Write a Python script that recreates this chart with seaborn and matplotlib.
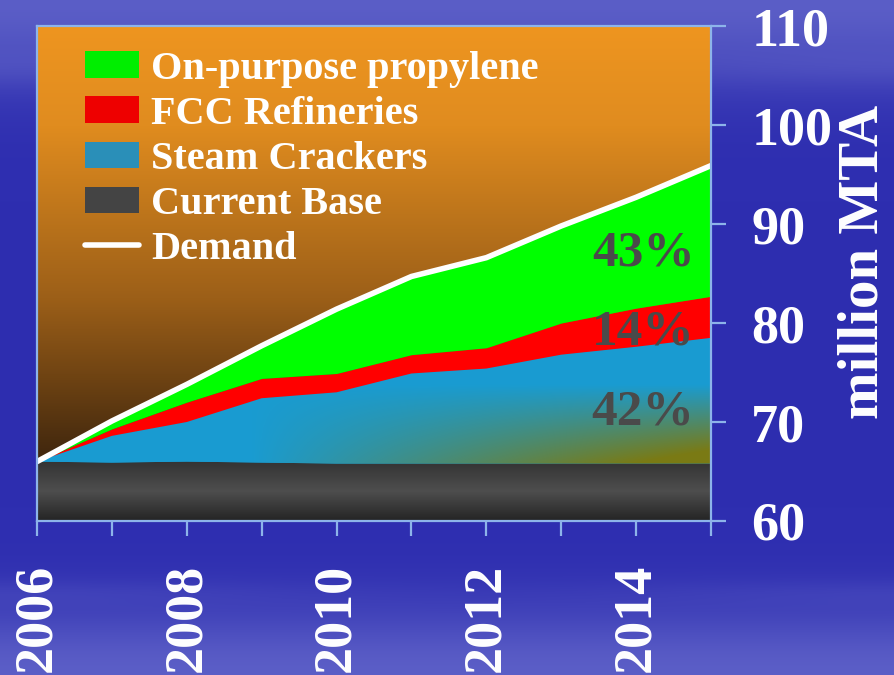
import numpy as np
import matplotlib
matplotlib.use("Agg")
import matplotlib.pyplot as plt
import seaborn as sns
from matplotlib.colors import LinearSegmentedColormap
from matplotlib.patches import Patch
from matplotlib.lines import Line2D

# ---- data ----
years = [2006, 2007, 2008, 2009, 2010, 2011, 2012, 2013, 2014, 2015]
current_base = [66.0, 65.9, 66.0, 65.9, 65.8, 65.8, 65.8, 65.8, 65.8, 65.8]
steam_top = [66.0, 68.6, 70.0, 72.4, 73.0, 74.9, 75.4, 76.8, 77.6, 78.5]
fcc_top = [66.0, 69.3, 72.0, 74.4, 74.9, 76.8, 77.5, 80.0, 81.5, 82.7]
demand = [66.0, 70.1, 73.8, 77.7, 81.4, 84.7, 86.6, 89.8, 92.7, 95.9]
tick_labels = ["2006", "", "2008", "", "2010", "", "2012", "", "2014", ""]
y_ticks = [60, 70, 80, 90, 100, 110]
series_names = ["On-purpose propylene", "FCC Refineries", "Steam Crackers", "Current Base", "Demand"]
pct_labels = ["43%", "14%", "42%"]
pct_y = [87.0, 79.0, 71.0]

Y0 = 60
# derived layer thicknesses
base_layer = np.array(current_base) - Y0
steam_layer = np.array(steam_top) - np.array(current_base)
fcc_layer = np.array(fcc_top) - np.array(steam_top)
green_layer = np.array(demand) - np.array(fcc_top)

sns.set_theme(style="white")
plt.rcParams['font.family'] = ['Liberation Serif', 'DejaVu Serif']
plt.rcParams['font.weight'] = 'bold'

W, H = 895, 675
fig = plt.figure(figsize=(W / 100, H / 100), dpi=100)

# figure background (blue sky gradient)
bg = fig.add_axes([0, 0, 1, 1], zorder=-10)
bg.set_axis_off()
yy = np.linspace(0, 1, 300)[:, None]
xx = np.linspace(0, 1, 200)[None, :]
top_light = np.exp(-(yy / 0.12) ** 2)
bot_light = np.exp(-((1 - yy) / 0.10) ** 2)
streak = 0.12 * np.exp(-((yy - 0.10) / 0.03) ** 2) + 0.10 * np.exp(-((yy - 0.88) / 0.02) ** 2)
mix = np.clip(0.55 * top_light + 0.55 * bot_light + streak * (0.6 + 0.4 * np.cos(xx * 6)), 0, 1)
dark = np.array([0.18, 0.18, 0.69])
light = np.array([0.50, 0.52, 0.85])
img = dark[None, None, :] * (1 - mix[..., None]) + light[None, None, :] * mix[..., None]
bg.imshow(img, extent=[0, 1, 0, 1], aspect='auto', origin='upper')
bg.set_xlim(0, 1); bg.set_ylim(0, 1)

ax = fig.add_axes([37 / W, 1 - 521 / H, (711 - 37) / W, (521 - 26) / H])
ax.patch.set_alpha(0)

# plot background gradient (orange -> dark brown)
bg_cmap = LinearSegmentedColormap.from_list("bgc", [(0, "#2e1c0c"), (0.14, "#44290e"),
                                                    (0.45, "#9c5f18"), (0.8, "#e08c1f"), (1, "#ee9520")])
grad = np.linspace(0, 1, 256)[:, None]
ax.imshow(grad, extent=[2006, 2015, 0, 50], aspect='auto', origin='lower', cmap=bg_cmap, zorder=0)

colors = ["#444444", "#1a9bd0", "#ff0000", "#00ff00"]
polys = ax.stackplot(years, base_layer, steam_layer, fcc_layer, green_layer,
                     baseline='zero', colors=colors, linewidth=0, zorder=1)

# gradient fills for base and steam
gray_cmap = LinearSegmentedColormap.from_list("g", [(0, "#242424"), (0.5, "#4e4e4e"), (1, "#333333")])
im1 = ax.imshow(grad, extent=[2006, 2015, 0, 6], aspect='auto', origin='lower', cmap=gray_cmap, zorder=2)
im1.set_clip_path(polys[0].get_paths()[0], transform=ax.transData)

gx = np.linspace(0, 1, 200)[None, :]
gy = np.linspace(0, 1, 200)[:, None]
olive_w = np.clip((gx * 1.1 - 0.35) * (1 - gy * 1.6) * 1.6, 0, 1)
blue = np.array([0.10, 0.61, 0.82])
olive = np.array([0.48, 0.48, 0.08])
simg = blue[None, None, :] * (1 - olive_w[..., None]) + olive[None, None, :] * olive_w[..., None]
im2 = ax.imshow(simg, extent=[2006, 2015, 5.8, 18.6], aspect='auto', origin='lower', zorder=2)
im2.set_clip_path(polys[1].get_paths()[0], transform=ax.transData)

dem = np.array(demand) - Y0
sns.lineplot(x=years, y=dem, ax=ax, color="white", linewidth=4.0, zorder=5,
             solid_capstyle='round')

ax.set_xlim(2006, 2015)
ax.set_ylim(0, 50)

for txt, yv in zip(pct_labels, pct_y):
    ax.text(2014.78, yv - Y0, txt, ha='right', va='center', fontsize=37,
            fontweight='bold', color="#4a4a4a", zorder=6)

# axes styling
spine_c = "#8db4ea"
for s in ax.spines.values():
    s.set_visible(True)
    s.set_color(spine_c)
    s.set_linewidth(1.6)
    s.set_zorder(7)

ax.set_xticks(years)
ax.set_xticklabels(tick_labels, rotation=90, fontsize=39, fontweight='bold', color='white')
ax.set_yticks([v - Y0 for v in y_ticks])
ax.set_yticklabels([str(v) for v in y_ticks], fontsize=39, fontweight='bold', color='white')
ax.yaxis.tick_right()
ax.yaxis.set_label_position('right')
ax.tick_params(axis='x', direction='out', length=11, width=1.6, color=spine_c, pad=20, bottom=True)
ax.tick_params(axis='y', direction='out', length=11, width=1.6, color=spine_c, pad=18,
               right=True, left=False)
ax.set_xlabel("")
ax.set_ylabel("million MTA", fontsize=41, fontweight='bold', color='white')
ax.yaxis.label.set_verticalalignment('center')
ax.yaxis.label.set_horizontalalignment('center')
ax.yaxis.set_label_coords((864 - 37) / 674, (521 - 262) / 495)

handles = [Patch(facecolor="#00ee00", edgecolor='none'),
           Patch(facecolor="#ee0000", edgecolor='none'),
           Patch(facecolor="#2a8fb8", edgecolor='none'),
           Patch(facecolor="#444444", edgecolor='none'),
           Line2D([0], [0], color='white', linewidth=4, solid_capstyle='round')]
leg = ax.legend(handles, series_names, loc='upper left', bbox_to_anchor=(0.047, 0.982),
                frameon=False, fontsize=29, handlelength=1.35, handleheight=0.65,
                handletextpad=0.3, labelspacing=0.2, borderaxespad=0)
for t in leg.get_texts():
    t.set_color('white')
    t.set_fontweight('bold')
leg.set_zorder(8)

fig.savefig("out.png", dpi=100)
